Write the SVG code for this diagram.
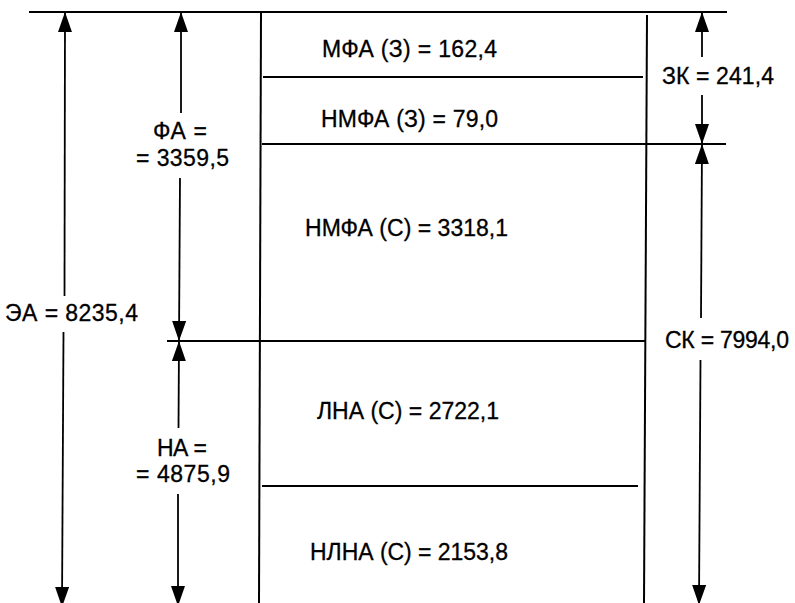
<svg xmlns="http://www.w3.org/2000/svg" width="795" height="603" viewBox="0 0 795 603">
  <defs>
    <marker id="ah" markerUnits="userSpaceOnUse" markerWidth="20" markerHeight="14" refX="20" refY="7" orient="auto-start-reverse" viewBox="0 0 20 14">
      <path d="M0,0 L20,7 L0,14 z" fill="#000"/>
    </marker>
  </defs>
  <style>
    .ln { stroke:#000; stroke-width:2; fill:none; }
    .dim { stroke:#000; stroke-width:1.8; fill:none; }
    .t { font-family:"Liberation Sans", Arial, sans-serif; font-size:23px; fill:#000; stroke:#000; stroke-width:0.3; }
  </style>
  <rect width="795" height="603" fill="#fff"/>

  <g id="frame">
    <line class="ln" x1="29" y1="12" x2="727" y2="12"/>
    <line class="ln" x1="261" y1="12" x2="259" y2="603"/>
    <line class="ln" x1="647" y1="15" x2="644" y2="603"/>
    <line class="ln" x1="263" y1="77" x2="643" y2="77"/>
    <line class="ln" x1="262" y1="144" x2="726" y2="144"/>
    <line class="ln" x1="167" y1="341" x2="645" y2="341"/>
    <line class="ln" x1="262" y1="486" x2="638" y2="486"/>
  </g>

  <g id="connectors">
    <!-- ЭА -->
    <line class="dim" x1="64.5" y1="296" x2="65" y2="12" marker-end="url(#ah)"/>
    <line class="dim" x1="63.5" y1="332" x2="62" y2="607" marker-end="url(#ah)"/>
    <!-- ФА -->
    <line class="dim" x1="181" y1="113" x2="181" y2="12" marker-end="url(#ah)"/>
    <line class="dim" x1="180" y1="178" x2="179" y2="341" marker-end="url(#ah)"/>
    <!-- НА -->
    <line class="dim" x1="178.5" y1="428" x2="179" y2="341" marker-end="url(#ah)"/>
    <line class="dim" x1="178" y1="494" x2="178" y2="606" marker-end="url(#ah)"/>
    <!-- ЗК -->
    <line class="dim" x1="702" y1="57" x2="702" y2="12" marker-end="url(#ah)"/>
    <line class="dim" x1="702" y1="95" x2="702" y2="144" marker-end="url(#ah)"/>
    <!-- СК -->
    <line class="dim" x1="701" y1="318" x2="702" y2="144" marker-end="url(#ah)"/>
    <line class="dim" x1="700.5" y1="360" x2="699" y2="605" marker-end="url(#ah)"/>
  </g>

  <g id="labels">
    <text class="t" x="322" y="57" textLength="175" lengthAdjust="spacing">МФА (З) = 162,4</text>
    <text class="t" x="321" y="127" textLength="177" lengthAdjust="spacing">НМФА (З) = 79,0</text>
    <text class="t" x="662" y="84" textLength="112" lengthAdjust="spacing">ЗК = 241,4</text>
    <text class="t" x="153" y="139" textLength="54" lengthAdjust="spacing">ФА =</text>
    <text class="t" x="136" y="166" textLength="93" lengthAdjust="spacing">= 3359,5</text>
    <text class="t" x="305" y="236" textLength="203" lengthAdjust="spacing">НМФА (С) = 3318,1</text>
    <text class="t" x="5" y="321" textLength="133" lengthAdjust="spacing">ЭА = 8235,4</text>
    <text class="t" x="665" y="348" textLength="124" lengthAdjust="spacing">СК = 7994,0</text>
    <text class="t" x="317" y="419" textLength="182" lengthAdjust="spacing">ЛНА (С) = 2722,1</text>
    <text class="t" x="157" y="456" textLength="50" lengthAdjust="spacing">НА =</text>
    <text class="t" x="136" y="482" textLength="94" lengthAdjust="spacing">= 4875,9</text>
    <text class="t" x="310" y="560" textLength="198" lengthAdjust="spacing">НЛНА (С) = 2153,8</text>
  </g>
</svg>
